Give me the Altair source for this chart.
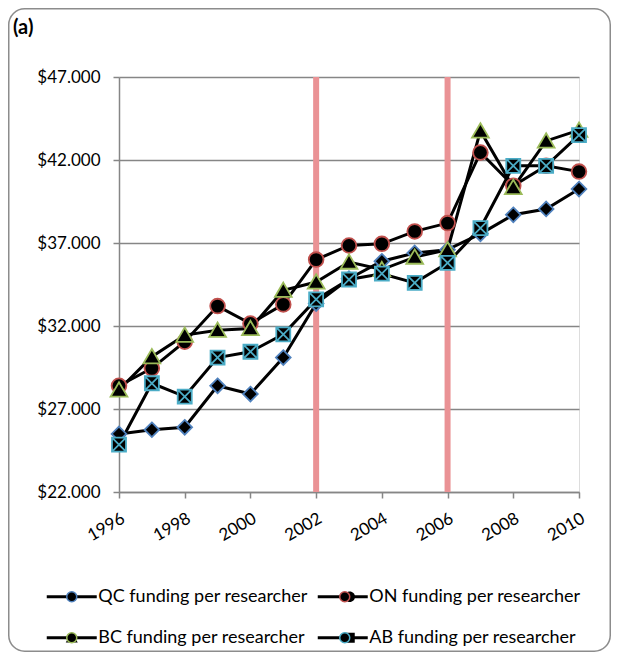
import altair as alt
import pandas as pd

years = list(range(1996, 2011))
series_names = [
    "QC funding per researcher",
    "ON funding per researcher",
    "BC funding per researcher",
    "AB funding per researcher",
]
qc_values = [25500, 25750, 25900, 28400, 27900, 30100, 33350, 34850, 35900, 36400, 36600, 37550, 38700, 39050, 40250]
on_values = [28400, 29450, 31050, 33200, 32150, 33300, 36000, 36850, 36950, 37700, 38200, 42450, 40450, 41650, 41300]
bc_values = [28150, 30150, 31450, 31750, 31850, 34150, 34650, 35850, 35400, 36150, 36600, 43750, 40350, 43150, 43800]
ab_values = [24850, 28550, 27750, 30100, 30450, 31500, 33600, 34800, 35150, 34600, 35800, 37900, 41650, 41650, 43500]
marker_colors = ["#4f81bd", "#c0504d", "#9bbb59", "#4bacc6"]
band_years = [2002, 2006]
y_ticks = [22000, 27000, 32000, 37000, 42000, 47000]

rows = []
for name, vals in zip(series_names, [qc_values, on_values, bc_values, ab_values]):
    for yr, v in zip(years, vals):
        rows.append({"year": yr, "value": v, "series": name, "series_line": name})
df = pd.DataFrame(rows)

ext = "M-5,0M5,0"
marker_paths = [
    "M0,-1.05L1.05,0L0,1.05L-1.05,0Z" + ext,
    "M1.05,0A1.05,1.05,0,1,1,-1.05,0A1.05,1.05,0,1,1,1.05,0Z" + ext,
    "M0,-1.1L1.2,0.95L-1.2,0.95Z" + ext,
    "M-1,-1L1,-1L1,1L-1,1Z M-1,-1L1,1 M1,-1L-1,1" + ext,
]

FONT = "Lato"
GRAY = "#868686"

legend_common = dict(
    orient="none", legendX=-72, legendY=510.75, columns=2, direction="horizontal",
    title=None, symbolSize=100, symbolOffset=15.75, labelOffset=17.5,
    rowPadding=23, labelFont=FONT, labelFontSize=18,
    labelLimit=500, padding=0,
)

x_enc = alt.X(
    "year:Q",
    scale=alt.Scale(domain=[1996, 2010], nice=False, zero=False),
    axis=alt.Axis(
        values=years, labelExpr="datum.value % 2 == 0 ? '' + datum.value : ''",
        labelAngle=330, labelAlign="right", labelBaseline="top",
        grid=False, title=None, tickSize=6, labelPadding=12,
        domainColor=GRAY, tickColor=GRAY, domainWidth=1.5, tickWidth=1.5,
        labelFont=FONT, labelFontSize=17, labelColor="black",
        labelFlush=False, labelOverlap=False, labelBound=False,
    ),
)
y_enc = alt.Y(
    "value:Q",
    scale=alt.Scale(domain=[22000, 47000], nice=False, zero=False),
    axis=alt.Axis(
        values=y_ticks,
        labelExpr="'$' + replace(format(datum.value, ','), ',', '.')",
        grid=True, gridColor=GRAY, gridWidth=1.5, title=None, tickSize=6,
        labelPadding=13, domainColor=GRAY, tickColor=GRAY, domainWidth=1.5,
        tickWidth=1.5, labelFont=FONT, labelFontSize=17, labelColor="black",
        labelFlush=False,
    ),
)

frame = alt.Chart(pd.DataFrame({"k": [0]})).mark_rect(
    fill="transparent", stroke="#8c8c8c", strokeWidth=1.5, cornerRadius=16
).encode(
    x=alt.value(-110.25), x2=alt.value(491.25),
    y=alt.value(-68.25), y2=alt.value(574.25),
)

bands = alt.Chart(pd.DataFrame({"year": band_years})).mark_rule(
    color="#ea9295", strokeWidth=6
).encode(x=alt.X("year:Q"))

lines = alt.Chart(df).mark_line(strokeWidth=3).encode(
    x=x_enc, y=y_enc,
    color=alt.Color(
        "series_line:N", sort=series_names,
        scale=alt.Scale(range=["black"] * 4),
        legend=alt.Legend(
            symbolType="M-5,0L5,0", symbolStrokeWidth=3, labelColor="black",
            columnPadding=3, **legend_common,
        ),
    ),
)

legend_b = alt.Legend(
    symbolStrokeWidth=1.5, labelExpr="''", symbolFillColor="black",
    columnPadding=221, **legend_common,
)
points = alt.Chart(df).mark_point(
    filled=True, fill="black", size=196, strokeWidth=1.8, opacity=1
).encode(
    x=x_enc, y=y_enc,
    shape=alt.Shape("series:N", sort=series_names,
                    scale=alt.Scale(range=marker_paths), legend=legend_b),
    stroke=alt.Stroke("series:N", sort=series_names,
                      scale=alt.Scale(range=marker_colors), legend=legend_b),
)

chart = alt.layer(bands, lines, points, frame).properties(
    width=460, height=415,
    autosize=alt.AutoSizeParams(type="none"),
    padding={"left": 111, "top": 69, "right": 32, "bottom": 160},
    title=alt.TitleParams(
        "(a)", anchor="start", frame="group", fontSize=20, fontWeight="bold",
        font=FONT, color="black", dx=-106, offset=-30,
    ),
).configure_view(stroke=None).configure(background="white")

chart.save("out.html", embed_options={"renderer": "svg", "actions": False})
